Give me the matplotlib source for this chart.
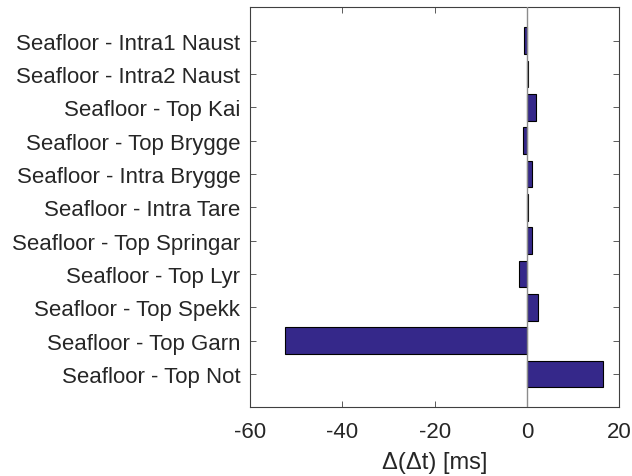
import numpy as np
from matplotlib import pyplot as plt

plt.rcParams['font.family'] = ['Liberation Sans', 'DejaVu Sans']
plt.rcParams['axes.unicode_minus'] = False

labels = ["Seafloor - Intra1 Naust", "Seafloor - Intra2 Naust", "Seafloor - Top Kai",
          "Seafloor - Top Brygge", "Seafloor - Intra Brygge", "Seafloor - Intra Tare",
          "Seafloor - Top Springar", "Seafloor - Top Lyr", "Seafloor - Top Spekk",
          "Seafloor - Top Garn", "Seafloor - Top Not"]
ddt = [-0.6, 0.3, 2.0, -0.8, 1.15, 0.2, 1.0, -1.7, 2.3, -52.4, 16.4]

fig = plt.figure(figsize=(6.32, 4.77), dpi=100)
ax = fig.add_axes([0.3956, 0.144, 0.5844, 0.8386])

# top label first, like the reference
pos = np.arange(len(labels), 0, -1)
ax.barh(pos, ddt, height=0.8, color="#35288a", edgecolor="black", linewidth=0.8, zorder=2)
ax.axvline(0, color="0.55", lw=1.0, zorder=3)

ax.set_ylim(0, 12)
ax.set_xlim(-60, 20)
ax.set_yticks(pos)
ax.set_yticklabels(labels)
ax.set_xticks([-60, -40, -20, 0, 20])
ax.tick_params(direction="in", top=True, right=True, length=4, width=0.6,
               colors="0.25", labelsize=16, labelcolor="0.15")
ax.tick_params(axis="x", pad=10)
ax.tick_params(axis="y", pad=7)
for s in ax.spines.values():
    s.set_color("0.25")
    s.set_linewidth(0.8)
ax.set_xlabel("\u0394(\u0394t) [ms]", fontsize=17, color="0.15", labelpad=6)

fig.savefig("out.png", dpi=100)
